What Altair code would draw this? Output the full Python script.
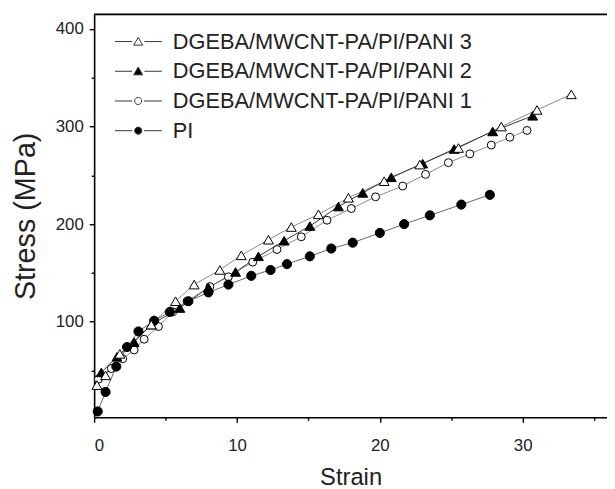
import altair as alt
import pandas as pd

names = ["DGEBA/MWCNT-PA/PI/PANI 3", "DGEBA/MWCNT-PA/PI/PANI 2",
         "DGEBA/MWCNT-PA/PI/PANI 1", "PI"]

strain3 = [0.2, 0.8, 1.8, 4.0, 5.7, 7.0, 8.8, 10.3, 12.2, 13.8, 15.7, 17.8,
           20.3, 22.8, 25.5, 28.5, 31.0, 33.4]
stress3 = [35, 45, 67, 97, 121, 138, 153, 168, 184, 197, 210, 227,
           244, 261, 278, 300, 317, 333]
strain2 = [0.5, 1.6, 2.8, 4.0, 6.0, 8.0, 9.9, 11.5, 13.3, 15.1, 17.1, 18.8,
           20.8, 23.0, 25.2, 27.9, 30.7]
stress2 = [48, 64, 79, 97, 114, 135, 151, 167, 183, 198, 218, 232,
           248, 262, 277, 295, 311]
strain1 = [0.3, 1.2, 2.0, 2.8, 3.5, 4.5, 5.5, 6.5, 8.1, 9.4, 11.1, 12.8,
           14.5, 16.3, 18.0, 19.7, 21.6, 23.2, 24.8, 26.3, 27.8, 29.1, 30.3]
stress1 = [41, 52, 62, 71, 82, 95, 110, 121, 136, 146, 161, 174,
           187, 204, 216, 228, 239, 251, 263, 272, 281, 289, 296]
strain_pi = [0.25, 0.8, 1.55, 2.3, 3.1, 4.2, 5.3, 6.6, 8.0, 9.4, 11.0, 12.35,
             13.5, 15.1, 16.6, 18.1, 20.0, 21.7, 23.5, 25.7, 27.7]
stress_pi = [8, 28, 54, 74, 90, 101, 110, 121, 130, 138, 147, 153,
             159, 167, 175, 181, 191, 200, 209, 220, 230]

x_ticks = [0, 5, 10, 15, 20, 25, 30, 35]
y_ticks = [50, 100, 150, 200, 250, 300, 350, 400]
x_range = [0, 35.9]
y_range = [2, 415]

series_data = [(names[0], strain3, stress3), (names[1], strain2, stress2),
               (names[2], strain1, stress1), (names[3], strain_pi, stress_pi)]
rows = []
for name, xs_, ys_ in series_data:
    for i, (a, b) in enumerate(zip(xs_, ys_)):
        rows.append({"series": name, "strain": a, "stress": b, "order": i})
df = pd.DataFrame(rows)

FONT = "Liberation Sans"
line_colors = ["#8a8a8a", "#333333", "#8a8a8a", "#666666"]
marker_shape = ["triangle-up", "triangle-up", "circle", "circle"]
marker_fill = ["white", "black", "white", "black"]
marker_size = [100, 100, 64, 85]

xs = alt.Scale(domain=x_range, nice=False, zero=False)
ys = alt.Scale(domain=y_range, nice=False, zero=False)

x_axis = alt.Axis(values=x_ticks, title="Strain", titleFontSize=24, titleFont=FONT,
                  titleFontWeight="normal", titleColor="#222", titlePadding=12,
                  labelFontSize=17, labelFont=FONT, labelColor="#222", labelPadding=16,
                  labelExpr="datum.value % 10 == 0 ? datum.label : ''",
                  tickSize={"condition": {"test": "datum.value % 10 == 0", "value": 5}, "value": 3},
                  tickColor="black", domainColor="black", domainWidth=1.6, tickWidth=1.4,
                  grid=False)
y_axis = alt.Axis(values=y_ticks, title="Stress (MPa)", titleFontSize=29, titleFont=FONT,
                  titleFontWeight="normal", titleColor="#222", titlePadding=15,
                  labelFontSize=17, labelFont=FONT, labelColor="#222", labelPadding=6,
                  labelExpr="datum.value % 100 == 0 ? datum.label : ''",
                  tickSize={"condition": {"test": "datum.value % 100 == 0", "value": 5}, "value": 3},
                  tickColor="black", domainColor="black", domainWidth=1.6, tickWidth=1.4,
                  grid=False)

base = alt.Chart(df)

line_layers = []
for idx in range(4):
    ll = base.transform_filter(alt.datum.series == names[idx]).mark_line(
        strokeWidth=1, color=line_colors[idx]
    ).encode(
        x=alt.X("strain:Q", scale=xs, axis=x_axis),
        y=alt.Y("stress:Q", scale=ys, axis=y_axis),
        order="order:Q",
    )
    line_layers.append(ll)

frame_top = alt.Chart(pd.DataFrame({"top": [y_range[1]]})).mark_rule(
    color="black", strokeWidth=1.6
).encode(y=alt.Y("top:Q", scale=ys))

point_layers = []
for idx in [2, 3, 1, 0]:
    pl = base.transform_filter(alt.datum.series == names[idx]).mark_point(
        filled=True, strokeWidth=1, opacity=1
    ).encode(
        x=alt.X("strain:Q", scale=xs),
        y=alt.Y("stress:Q", scale=ys),
        shape=alt.value(marker_shape[idx]),
        fill=alt.value(marker_fill[idx]),
        stroke=alt.value("black"),
        size=alt.value(marker_size[idx]),
    )
    point_layers.append(pl)

tri = "M-5.2,0H-1.4M1.4,0H5.3M0,-0.95L1,0.8H-1Z"
circ = "M-5.2,0H-1.3M1.3,0H5.3M-0.8,0A0.8,0.8,0,1,0,0.8,0A0.8,0.8,0,1,0,-0.8,0Z"
legend_paths = [tri, tri, circ, circ]

leg = alt.Legend(orient="none", legendX=33.5, legendY=16.5, title=None,
                 labelFontSize=22, labelFont=FONT, labelColor="#222", labelLimit=400,
                 symbolSize=81, labelOffset=24, rowPadding=8, padding=0,
                 symbolStrokeWidth=1)

# legend-only layer: its own marks are drawn with zero size
legend_layer = base.transform_filter(alt.datum.order == 0).mark_point(
    filled=True, strokeWidth=1, opacity=1, size=0
).encode(
    x=alt.X("strain:Q", scale=xs),
    y=alt.Y("stress:Q", scale=ys),
    shape=alt.Shape("series:N", scale=alt.Scale(domain=names, range=legend_paths), legend=leg),
    fill=alt.Fill("series:N", scale=alt.Scale(domain=names, range=marker_fill), legend=leg),
    stroke=alt.value("#333"),
)

chart = alt.layer(*line_layers, frame_top, *point_layers, legend_layer).properties(
    width=518, height=407,
    autosize=alt.AutoSizeParams(type="none"),
    padding={"left": 87, "top": 4, "right": 0, "bottom": 70},
).configure_view(stroke=None).configure(background="white")

chart.save("out.html", embed_options={"renderer": "svg", "actions": False})
